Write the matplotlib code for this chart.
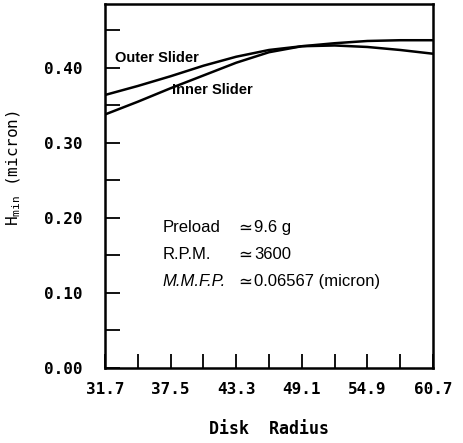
import matplotlib
matplotlib.use("Agg")
import matplotlib.pyplot as plt
import numpy as np

# disk radius positions (tick spacing 2.9)
radius = [31.7, 34.6, 37.5, 40.4, 43.3, 46.2, 49.1, 52.0, 54.9, 57.8, 60.7]
# minimum flying height, micron
outer_slider = [0.364, 0.376, 0.389, 0.403, 0.415, 0.424, 0.429, 0.433, 0.436, 0.437, 0.437]
inner_slider = [0.338, 0.355, 0.373, 0.390, 0.407, 0.421, 0.429, 0.430, 0.428, 0.424, 0.419]

x_labels = ["31.7", "37.5", "43.3", "49.1", "54.9", "60.7"]

params = [("Preload", "9.6 g", "normal"),
          ("R.P.M.", "3600", "normal"),
          ("M.M.F.P.", "0.06567 (micron)", "italic")]

mono = "DejaVu Sans Mono"
sans = "Liberation Sans"

fig = plt.figure(figsize=(4.63, 4.43), dpi=100)
ax = fig.add_axes([105 / 463, 1 - 368 / 443, 328 / 463, 364 / 443])

ax.plot(radius, outer_slider, color="black", lw=1.8)
ax.plot(radius, inner_slider, color="black", lw=1.8)

ax.set_xlim(31.7, 60.7)
ax.set_ylim(0, 0.4853)

# ticks: inward, every half step, labels only on whole steps
ax.set_xticks(radius)
ax.set_xticklabels([x_labels[i // 2] if i % 2 == 0 else "" for i in range(len(radius))])
yt = np.arange(0, 0.46, 0.05)
ax.set_yticks(yt)
ax.set_yticklabels([f"{v:.2f}" if round(v * 100) % 10 == 0 else "" for v in yt])
ax.tick_params(direction="in", width=1.3, color="black", top=False, right=False)
ax.tick_params(axis="x", length=10, pad=10)
ax.tick_params(axis="y", length=11, pad=16)
for lab in ax.get_xticklabels() + ax.get_yticklabels():
    lab.set_fontfamily(mono)
    lab.set_fontweight("bold")
    lab.set_fontsize(11.5)

for sp in ax.spines.values():
    sp.set_linewidth(1.8)

ax.set_xlabel("Disk  Radius", family=mono, fontweight="bold", fontsize=12, labelpad=17)
fig.text(14 / 463, 1 - 168 / 443, r"H$_{\mathregular{min}}$ (micron)", family=mono,
         fontsize=11.5, rotation=90, ha="center", va="center")

ax.text(32.6, 0.4133, "Outer Slider", family=sans, fontsize=10.5, fontweight="bold", va="center")
ax.text(37.6, 0.3705, "Inner Slider", family=sans, fontsize=10.5, fontweight="bold", va="center")

row_y = [0.1867, 0.1507, 0.1147]
for (name, val, style), yy in zip(params, row_y):
    ax.text(36.8, yy, name, family=sans, fontsize=12, style=style, va="center")
    ax.text(43.5, yy, "\u2243", family="DejaVu Sans", fontsize=12, va="center")
    ax.text(44.9, yy, val, family=sans, fontsize=12, va="center")

fig.savefig("out.png", dpi=100)
